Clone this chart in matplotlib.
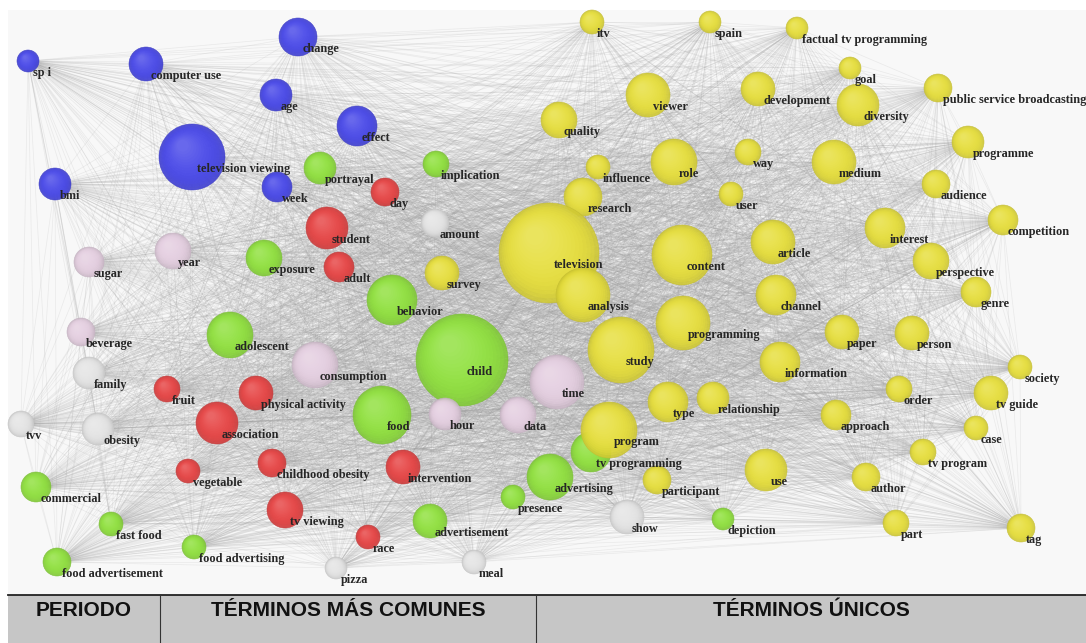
import itertools
import numpy as np
import matplotlib.pyplot as plt
from matplotlib.colors import to_rgb
from matplotlib.collections import LineCollection
from matplotlib.patches import Circle, Rectangle

# node data (pixel coords of the original image)
terms = ['sp i', 'computer use', 'change', 'age', 'effect', 'television viewing', 'bmi', 'week',
         'portrayal', 'implication', 'exposure', 'behavior', 'adolescent', 'child', 'food', 'commercial',
         'fast food', 'food advertisement', 'food advertising', 'advertisement', 'presence', 'advertising',
         'tv programming', 'depiction',
         'day', 'student', 'adult', 'fruit', 'physical activity', 'association', 'vegetable',
         'childhood obesity', 'intervention', 'tv viewing', 'race',
         'sugar', 'year', 'beverage', 'consumption', 'hour', 'data', 'time',
         'amount', 'family', 'obesity', 'tvv', 'pizza', 'meal', 'show',
         'itv', 'spain', 'factual tv programming', 'goal', 'viewer', 'development', 'diversity',
         'public service broadcasting', 'quality', 'programme', 'influence', 'role', 'way', 'medium',
         'user', 'research', 'audience', 'television', 'competition', 'interest', 'content', 'article',
         'perspective', 'survey', 'analysis', 'genre', 'channel', 'programming', 'study', 'paper',
         'person', 'information', 'society', 'order', 'tv guide', 'type', 'relationship', 'approach',
         'case', 'program', 'tv program', 'participant', 'use', 'author', 'part', 'tag']

x = [28, 146, 298, 276, 357, 192, 55, 277,
     320, 436, 264, 392, 230, 462, 382, 36,
     111, 57, 194, 430, 513, 550,
     591, 723,
     385, 327, 339, 167, 256, 217, 188,
     272, 403, 285, 368,
     89, 173, 81, 315, 445, 518, 557,
     435, 89, 98, 21, 336, 474, 627,
     592, 710, 797, 850, 648, 758, 858,
     938, 559, 968, 598, 674, 748, 834,
     731, 583, 936, 549, 1003, 885, 682, 773,
     931, 442, 583, 976, 776, 683, 621, 842,
     912, 780, 1020, 899, 991, 668, 713, 836,
     976, 609, 923, 657, 766, 866, 896, 1021]

y = [61, 64, 37, 95, 126, 157, 184, 187,
     168, 164, 258, 300, 335, 360, 415, 487,
     524, 562, 547, 521, 497, 477,
     452, 519,
     192, 228, 267, 389, 393, 423, 471,
     463, 467, 510, 537,
     262, 251, 332, 365, 414, 415, 382,
     223, 373, 429, 424, 568, 562, 517,
     22, 22, 28, 68, 95, 89, 105,
     88, 120, 142, 167, 162, 152, 162,
     194, 197, 184, 253, 220, 228, 255, 242,
     261, 273, 295, 292, 295, 323, 350, 332,
     333, 362, 367, 389, 393, 402, 398, 415,
     428, 430, 452, 480, 470, 477, 523, 528]

size = [11, 17, 19, 16, 20, 33, 16, 15,
        16, 13, 18, 25, 23, 46, 29, 15,
        12, 14, 12, 17, 12, 23,
        20, 11,
        14, 21, 15, 13, 17, 21, 12,
        14, 17, 18, 12,
        15, 18, 14, 23, 16, 18, 27,
        14, 16, 16, 13, 11, 12, 17,
        12, 11, 11, 11, 22, 17, 21,
        14, 18, 16, 12, 23, 13, 22,
        12, 19, 14, 50, 15, 20, 30, 22,
        18, 17, 27, 15, 20, 27, 33, 17,
        17, 20, 12, 13, 17, 20, 16, 15,
        12, 28, 13, 14, 21, 14, 13, 14]

group = (['blue'] * 8 + ['green'] * 16 + ['red'] * 11 + ['pink'] * 7 + ['white'] * 7
         + ['yellow'] * 47)

headers = ['PERIODO', 'TÉRMINOS MÁS COMUNES', 'TÉRMINOS ÚNICOS']
header_bounds = [8, 160, 536, 1086]

palette = {'blue': '#4646ea', 'green': '#8fe23c', 'red': '#e84242',
           'pink': '#e6d0e2', 'white': '#e6e6e6', 'yellow': '#e8e03a'}


def mix(c, other, t):
    a, b = np.array(to_rgb(c)), np.array(to_rgb(other))
    return tuple(a * (1 - t) + b * t)


fig = plt.figure(figsize=(10.86, 6.43), dpi=100)
ax = fig.add_axes([0, 0, 1, 1])
ax.set_xlim(0, 1086)
ax.set_ylim(643, 0)
ax.set_aspect('equal')
ax.axis('off')

# canvas of the network and the table header below it
ax.add_patch(Rectangle((8, 10), 1078, 584, fc='#f8f8f8', ec='none', zorder=0))
ax.add_patch(Rectangle((8, 595), 1078, 48, fc='#c6c6c6', ec='none', zorder=0))
ax.plot([8, 1086], [594.5, 594.5], color='#222222', lw=1.3, zorder=1)
for bx in header_bounds[1:-1]:
    ax.plot([bx, bx], [595, 643], color='#333333', lw=0.8, zorder=1)
for i, h in enumerate(headers):
    cx = (header_bounds[i] + header_bounds[i + 1]) / 2
    ax.text(cx, 610, h, ha='center', va='center', fontsize=15, fontweight='bold',
            family='Liberation Sans', color='#111111')

# edges: every term linked with every other one
n = len(terms)
segs = [[(x[i], y[i]), (x[j], y[j])] for i, j in itertools.combinations(range(n), 2)]
ax.add_collection(LineCollection(segs, colors='#a0a0a0', linewidths=0.5, alpha=0.17, zorder=2))

# nodes as shaded spheres: slightly darker rim, lighter toward the upper left
steps = 14
for t, cx, cy, r, g in zip(terms, x, y, size, group):
    col = palette[g]
    ax.add_patch(Circle((cx, cy), r, fc=mix(col, 'black', 0.1), ec=mix(col, 'black', 0.16),
                        lw=0.4, alpha=0.9, zorder=3))
    for k in range(1, steps + 1):
        f = k / steps
        rr = r * (1 - 0.8 * f) - 0.6
        ax.add_patch(Circle((cx - 0.28 * f * r, cy - 0.34 * f * r), rr,
                            fc=mix(col, 'white', 0.22 * f), ec='none', alpha=0.3, zorder=3))
    ax.text(cx + 5, cy + 12, t, ha='left', va='center', fontsize=8.8, fontweight='bold',
            family='Liberation Serif', color='#262626', zorder=4)

fig.savefig('out.png', dpi=100)
